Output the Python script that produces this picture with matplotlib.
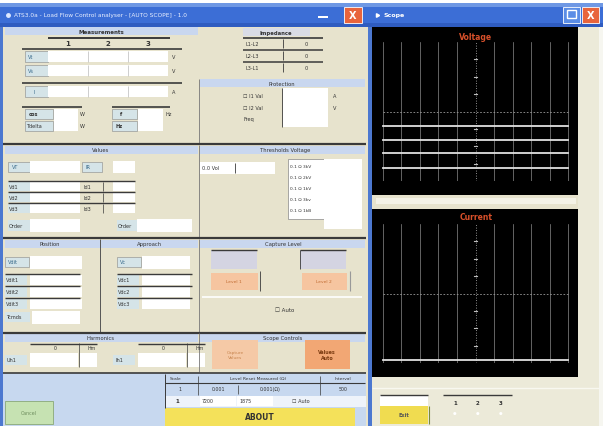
import numpy as np
import matplotlib
matplotlib.use("Agg")
import matplotlib.pyplot as plt
from matplotlib.patches import Rectangle

# ----------------------------
# Datos
# ----------------------------

# Trazas del osciloscopio, en divisiones (eje y de -4 a 4)
volt_traces = [-0.85, -1.65, -2.4, -3.25]
curr_traces = [-3.85]
grid_x = [-5, -4, -3, -2, -1, 0, 1, 2, 3, 4, 5]
axis_ticks = [-3, -2, -1, 1, 2, 3]

# Textos de la ventana principal
win_title = "ATS3.0a - Load Flow Control analyser - [AUTO SCOPE] - 1.0"
scope_title = "Scope"
meas_cols = ["1", "2", "3"]
meas_rows = ["Vt", "Vs"]
imp_rows = ["L1-L2", "L2-L3", "L3-L1"]
imp_vals = ["0", "0", "0"]
prot_items = ["I1 Val", "I2 Val", "Freq"]
prot_units = ["A", "V"]
val_rows = ["Vd1", "Vd2", "Vd3"]
val_rows2 = ["Id1", "Id2", "Id3"]
thr_items = ["0.1 Ω 3kV", "0.1 Ω 2kV", "0.1 Ω 1kV", "0.1 Ω 3kv", "0.1 Ω 1kB"]
pos_rows = ["Vdit1", "Vdit2", "Vdit3"]
app_rows = ["Vdc1", "Vdc2", "Vdc3"]
bottom_cols = ["Scale", "Level Reset Measured (Ω)", "Interval"]
bottom_vals = ["1", "0.001", "0.001(Ω)", "500"]
radio_labels = ["1", "2", "3"]

# ----------------------------
# Colores
# ----------------------------
BEIGE = "#E7E3CD"
BEIGE2 = "#ECEAD9"
HEAD = "#C9D7EF"
BLUE_BAR = "#3C6ED6"
BOTTOM = "#C7D8EF"
LBL = "#D5E4E8"
DARK = "#3a3a3a"

fig = plt.figure(figsize=(6.03, 4.27), dpi=100)
ax = fig.add_axes([0, 0, 1, 1])
ax.set_xlim(0, 603)
ax.set_ylim(427, 0)
ax.axis("off")


def rect(x, y, w, h, fc, ec="none", lw=0.6, z=1):
    ax.add_patch(Rectangle((x, y), w, h, facecolor=fc, edgecolor=ec, lw=lw, zorder=z))


def txt(x, y, s, size=3.6, ha="left", color="#333333", weight="normal", z=5):
    ax.text(x, y, s, fontsize=size, ha=ha, va="center", color=color,
            fontweight=weight, zorder=z)


def hl(x0, x1, y, color=DARK, lw=1.0, z=3):
    ax.plot([x0, x1], [y, y], color=color, lw=lw, zorder=z, solid_capstyle="butt")


def vl(x, y0, y1, color=DARK, lw=0.8, z=3):
    ax.plot([x, x], [y0, y1], color=color, lw=lw, zorder=z, solid_capstyle="butt")


def title_bar(x0, x1):
    rect(x0, 4, x1 - x0, 24, BLUE_BAR, z=2)
    rect(x0, 4, x1 - x0, 4, "#6F98E4", z=2)
    rect(x0, 24, x1 - x0, 4, "#2F5CC0", z=2)


# fondo
rect(0, 0, 603, 427, "white", z=0)

# ============================
# Ventana izquierda
# ============================
rect(0, 4, 368, 423, BEIGE, z=0.5)
rect(0, 4, 3, 423, "#4C78D0", z=2)
title_bar(0, 368)
txt(14, 16, win_title, size=4.2, color="#EAF0FF")
ax.plot(8, 16, "o", ms=2.5, color="#DDE8FF", zorder=4)
rect(318, 17, 10, 2, "white", z=4)
rect(344, 8, 18, 16, "#E8643C", ec="white", lw=0.6, z=4)
txt(353, 16, "X", size=7, ha="center", color="white", weight="bold")

# --- Sección 1: Measurements ---
rect(5, 28, 193, 8, HEAD, z=1)
txt(101, 32, "Measurements", size=4, ha="center", weight="bold")
hl(48, 170, 38.5, lw=1.4)
for i, c in enumerate(meas_cols):
    txt(68 + 40 * i, 44, c, size=5, ha="center", weight="bold")
hl(22, 182, 49.5, lw=1.2)
for j, r in enumerate(meas_rows):
    y = 52 + 14 * j
    rect(25, y, 23, 11, LBL, ec="#888888", lw=0.4, z=2)
    txt(28, y + 5.5, r, color="#336688")
    rect(48, y, 120, 11, "white", z=2)
    vl(88, y, y + 11, color="#bbbbbb", lw=0.5)
    vl(128, y, y + 11, color="#bbbbbb", lw=0.5)
    txt(172, y + 5.5, "V")
hl(22, 182, 84, lw=1.2)
rect(25, 87, 23, 11, LBL, ec="#888888", lw=0.4, z=2)
txt(33, 92.5, "I", color="#336688")
rect(48, 87, 120, 11, "white", z=2)
vl(88, 87, 98, color="#bbbbbb", lw=0.5)
vl(128, 87, 98, color="#bbbbbb", lw=0.5)
txt(172, 92.5, "A")

# grupos pequeños
hl(22, 82, 108, lw=1.2)
rect(25, 110, 28, 10, LBL, ec="#888888", lw=0.4, z=2)
rect(25, 122, 28, 10, LBL, ec="#888888", lw=0.4, z=2)
txt(29, 115, "cos", weight="bold")
txt(26, 127, "Tdelta")
rect(54, 110, 24, 22, "white", z=2)
txt(80, 115, "W")
txt(80, 127, "W")
hl(112, 170, 108, lw=1.2)
rect(112, 110, 25, 10, LBL, ec="#888888", lw=0.4, z=2)
rect(112, 122, 25, 10, LBL, ec="#888888", lw=0.4, z=2)
txt(120, 115, "f", weight="bold")
txt(115, 127, "Hz", weight="bold")
rect(138, 110, 25, 22, "white", z=2)
txt(166, 115, "Hz")

# impedancia
vl(199, 80, 145, color="#777777", lw=0.6)
rect(243, 29, 67, 8, "#D9DCE6", z=1)
txt(276, 33, "Impedance", size=3.8, ha="center", weight="bold")
hl(243, 323, 38.5, lw=1.2)
for k, (r, v) in enumerate(zip(imp_rows, imp_vals)):
    y = 39 + 12 * k
    txt(245, y + 5, r)
    vl(283, y + 1, y + 10, lw=0.6)
    txt(305, y + 5, v)
    if k < 2:
        hl(243, 323, y + 11.5, lw=1.1)

# protección
rect(200, 80, 165, 8, HEAD, z=1)
txt(282, 84, "Protection", size=3.8, ha="center")
for k, s in enumerate(prot_items):
    txt(243, 96 + 12 * k, "☐ " + s if k < 2 else s, size=3.6)
vl(282, 89, 128, lw=0.6)
rect(283, 89, 45, 39, "white", z=2)
for k, u in enumerate(prot_units):
    txt(333, 96 + 12 * k, u)

hl(3, 366, 145, lw=1.6)

# --- Sección 2 ---
rect(5, 147, 193, 8, HEAD, z=1)
txt(101, 151, "Values", size=3.8, ha="center")
rect(200, 147, 165, 8, HEAD, z=1)
txt(285, 151, "Thresholds Voltage", size=3.8, ha="center")
vl(199, 146, 238, color="#777777", lw=0.6)

rect(8, 163, 22, 10, LBL, ec="#888888", lw=0.4, z=2)
txt(12, 168, "VT", color="#336688")
rect(30, 162, 50, 12, "white", z=2)
rect(82, 163, 20, 10, LBL, ec="#888888", lw=0.4, z=2)
txt(86, 168, "IR", color="#336688")
rect(113, 162, 22, 12, "white", z=2)
for k, (a, b) in enumerate(zip(val_rows, val_rows2)):
    y = 183 + 11 * k
    hl(8, 135, y - 1, lw=1.0)
    rect(8, y, 22, 9, LBL, z=2)
    txt(9, y + 4.5, a)
    rect(30, y, 50, 9, "white", z=2)
    txt(84, y + 4.5, b)
    vl(103, y, y + 9, lw=0.5)
    rect(113, y, 22, 9, "white", z=2)
rect(8, 221, 22, 11, LBL, z=2)
txt(9, 226.5, "Order")
rect(30, 220, 50, 13, "white", z=2)
rect(117, 221, 20, 11, LBL, z=2)
txt(118, 226.5, "Order")
rect(137, 220, 55, 13, "white", z=2)

rect(200, 163, 75, 12, "white", z=2)
txt(202, 169, "0.0 Vol", size=3.6)
vl(235, 164, 174, lw=0.6)
rect(288, 160, 36, 60, "white", ec="#888888", lw=0.5, z=2)
rect(324, 160, 38, 70, "white", z=2)
for k, s in enumerate(thr_items):
    txt(290, 167 + 11 * k, s, size=3.2)

hl(3, 366, 238.5, lw=1.6)

# --- Sección 3 ---
rect(5, 241, 95, 8, HEAD, z=1)
txt(50, 245, "Position", size=3.8, ha="center")
rect(101, 241, 97, 8, HEAD, z=1)
txt(150, 245, "Approach", size=3.8, ha="center")
rect(200, 241, 165, 8, HEAD, z=1)
txt(283, 245, "Capture Level", size=3.8, ha="center")
vl(100, 240, 333, color="#555555", lw=0.7)
vl(199, 240, 333, color="#777777", lw=0.6)

for col, (x0, lab0, rows) in enumerate([(5, "Vdit", pos_rows), (117, "Vc", app_rows)]):
    rect(x0, 258, 24, 10, LBL, ec="#888888", lw=0.4, z=2)
    txt(x0 + 3, 263, lab0, color="#336688")
    rect(x0 + 25, 257, 52 if col == 0 else 48, 13, "white", z=2)
    for k, r in enumerate(rows):
        y = 276 + 12 * k
        hl(x0, x0 + 75, y - 1, lw=1.0)
        rect(x0, y, 22, 10, LBL, z=2)
        txt(x0 + 1, y + 5, r)
        rect(x0 + 25, y, 52 if col == 0 else 48, 10, "white", z=2)
rect(5, 313, 25, 10, LBL, z=2)
txt(6, 318, "Tcmds")
rect(32, 312, 48, 13, "white", z=2)

rect(211, 251, 46, 19, "#D4D4E2", z=2)
hl(211, 257, 251, lw=1.0)
rect(300, 251, 46, 19, "#D4D4E2", z=2)
hl(300, 346, 251, lw=1.0)
vl(300, 251, 270, lw=0.6)
rect(211, 274, 47, 17, "#F6C5A0", z=2)
txt(234, 282.5, "Level 1", size=3.2, ha="center", color="#C06A30")
vl(260, 272, 292, lw=0.6)
rect(302, 274, 45, 17, "#F6C5A0", z=2)
txt(324, 282.5, "Level 2", size=3.2, ha="center", color="#C06A30")
vl(350, 272, 292, color="#999999", lw=0.8)
hl(202, 362, 297.5, color="white", lw=1.2)
txt(275, 310, "☐ Auto", size=4)

hl(3, 366, 333.5, lw=1.6)

# --- Sección 4 ---
rect(5, 335, 193, 8, HEAD, z=1)
txt(101, 339, "Harmonics", size=3.8, ha="center")
rect(200, 335, 165, 8, HEAD, z=1)
txt(283, 339, "Scope Controls", size=3.8, ha="center")
vl(199, 334, 373, color="#777777", lw=0.6)
for x0, lab0 in [(5, "Uh1"), (113, "Ih1")]:
    hl(x0 + 25, x0 + 92, 345, lw=1.0)
    txt(x0 + 50, 349, "0", size=3.4, ha="center")
    txt(x0 + 82, 349, "Hm", size=3.4)
    rect(x0, 356, 22, 10, LBL, z=2)
    txt(x0 + 2, 361, lab0)
    rect(x0 + 25, 354, 48, 14, "white", z=2)
    rect(x0 + 75, 354, 17, 14, "white", z=2)
    vl(x0 + 74, 344, 368, lw=0.5)
rect(212, 341, 46, 29, "#F5C9A6", z=2)
txt(235, 355.5, "Capture\nValues", size=3.2, ha="center", color="#C8854F")
rect(305, 341, 45, 29, "#F2A774", z=2)
txt(327, 355.5, "Values\nAuto", size=3.4, ha="center", color="#7A3A10", weight="bold")

# --- Zona inferior ---
hl(3, 366, 373.5, lw=1.2)
rect(3, 374, 363, 53, BOTTOM, z=1)
rect(5, 402, 48, 23, "#C6E2B2", ec="#8AA878", lw=0.6, z=2)
txt(29, 414, "Cancel", size=3.4, ha="center", color="#6E8E5E")
vl(165, 375, 409, lw=0.7)
hl(165, 365, 384, lw=0.8)
txt(170, 379, bottom_cols[0], size=3.2)
txt(258, 379, bottom_cols[1], size=3.2, ha="center")
txt(343, 379, bottom_cols[2], size=3.2, ha="center")
vl(198, 377, 396, lw=0.5)
vl(320, 377, 396, lw=0.5)
txt(180, 390, bottom_vals[0], size=3.4, ha="center")
txt(218, 390, bottom_vals[1], size=3.4, ha="center")
vl(238, 386, 395, lw=0.5)
txt(270, 390, bottom_vals[2], size=3.4, ha="center")
txt(343, 390, bottom_vals[3], size=3.4, ha="center")
rect(166, 397, 200, 11, "#EEF3FA", z=1.5)
txt(175, 402, "1", size=4, weight="bold")
rect(200, 397, 36, 10, "white", z=2)
txt(202, 402, "7200", size=3.4)
rect(237, 397, 36, 10, "white", z=2)
txt(239, 402, "1875", size=3.4)
txt(292, 402, "☐ Auto", size=3.6)
rect(165, 409, 190, 18, "#F4E15A", z=2)
txt(260, 418, "ABOUT", size=5.5, ha="center", color="#333333", weight="bold")

# ============================
# Ventana derecha (Scope)
# ============================
rect(368, 4, 235, 423, BEIGE2, z=0.5)
rect(368, 4, 4, 423, "#4C78D0", z=2)
title_bar(368, 603)
txt(384, 16, scope_title, size=4.5, color="white", weight="bold")
ax.plot(377, 16, marker=(3, 0, 30), ms=3, color="white", zorder=4)
rect(563, 8, 17, 16, "#5B8DE6", ec="white", lw=0.6, z=4)
rect(567, 11, 9, 8, "none", ec="white", lw=1.0, z=5)
rect(582, 8, 17, 16, "#E8643C", ec="white", lw=0.6, z=4)
txt(590.5, 16, "X", size=7, ha="center", color="white", weight="bold")
rect(599, 28, 4, 399, "#F6F6F0", z=1)

rect(372, 28, 206, 168, "black", z=2)
rect(372, 196, 206, 14, BEIGE, z=2)
rect(376, 199, 200, 6, "#F4F2E6", z=2)
rect(372, 210, 206, 168, "black", z=2)
hl(372, 599, 389, color="#F8F8F0", lw=1.0)
txt(476, 37, "Voltage", size=5.5, ha="center", color="#D8502A", weight="bold")
txt(476, 218, "Current", size=5.5, ha="center", color="#D8502A", weight="bold")

# botones inferiores
rect(380, 396, 48, 11, "white", z=2)
hl(380, 428, 396, lw=1.0)
rect(380, 407, 48, 18, "#F0DC50", z=2)
txt(404, 416, "Exit", size=3.6, ha="center", color="#555555", weight="bold")
vl(428.5, 407, 425, color="#7A8A3A", lw=0.8)
hl(443, 512, 396, lw=1.0)
for k, s in enumerate(radio_labels):
    txt(455 + 23 * k, 404, s, size=4, ha="center", weight="bold")
    txt(455 + 23 * k, 414, "●", size=3, ha="center", color="white")


def scope_axes(px_left, px_top, px_w, px_h, traces, dashed_zero):
    a = fig.add_axes([px_left / 603, 1 - (px_top + px_h) / 427, px_w / 603, px_h / 427])
    a.set_facecolor("black")
    a.set_xlim(-5.2, 5.2)
    a.set_ylim(-4, 4)
    for gx in grid_x:
        if gx == 0:
            continue
        a.axvline(gx, color="#8a8a8a", lw=0.5)
    a.axvline(0, color="#bbbbbb", lw=0.6, ls=(0, (1, 2)))
    for t in axis_ticks:
        a.plot([-0.08, 0.08], [t, t], color="#bbbbbb", lw=0.8)
    if dashed_zero:
        a.axhline(0, xmin=0.02, xmax=0.98, color="#9a9a9a", lw=0.6, ls=(0, (2, 2)))
    for v in traces:
        a.plot([-5, 5], [v, v], color="#e0e0e0", lw=1.3, zorder=4)
    for s in a.spines.values():
        s.set_visible(False)
    a.set_xticks([])
    a.set_yticks([])
    return a


scope_axes(379, 43, 193, 139, volt_traces, True)
scope_axes(379, 225, 193, 139, curr_traces, True)

fig.savefig("out.png", dpi=100)
